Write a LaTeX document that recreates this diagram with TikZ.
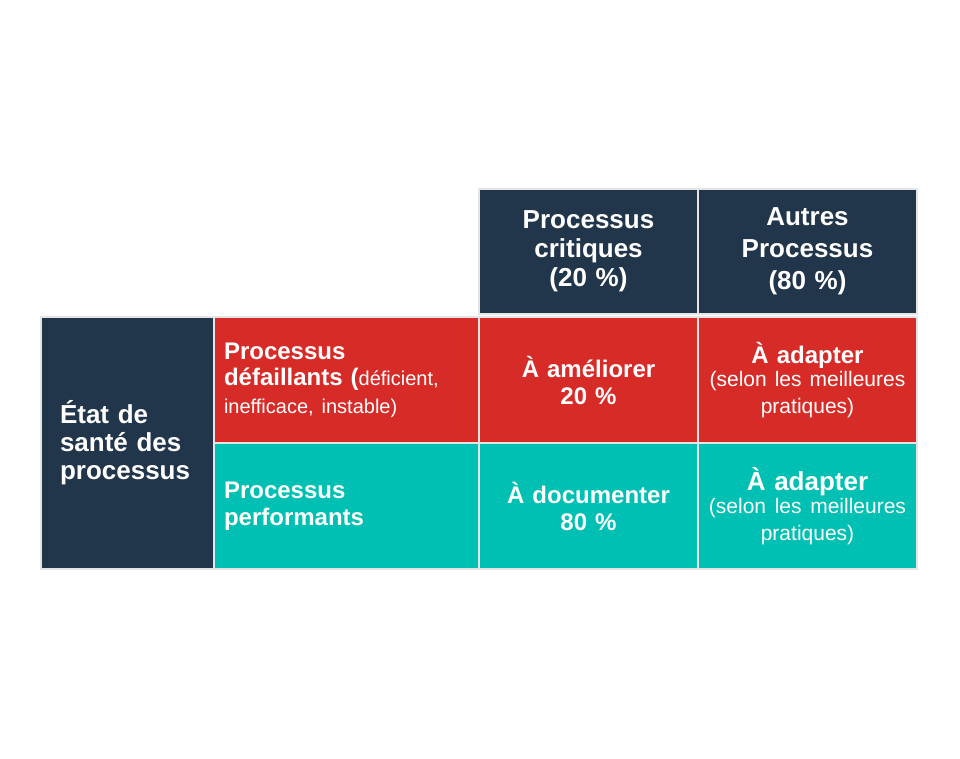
\documentclass[tikz,border=0pt]{standalone}
\usepackage{fontspec}
\setmainfont{Liberation Sans}
\usepackage{xcolor}
\usetikzlibrary{positioning}
\definecolor{navy}{RGB}{34,54,75}
\definecolor{alertred}{RGB}{214,43,39}
\definecolor{okteal}{RGB}{0,191,179}
\newcommand{\regtext}[1][21]{\mdseries\fontsize{#1}{23}\selectfont}

\begin{document}
\begin{tikzpicture}[x=1pt, y=-1pt,
    cell/.style={draw=gray!20, line width=1.2pt, outer sep=0pt, inner ysep=0pt, text=white, font=\bfseries\fontsize{24}{27}\selectfont},
    navycell/.style={cell, fill=navy},
    redcell/.style={cell, fill=alertred},
    tealcell/.style={cell, fill=okteal},
    leftcol/.style={minimum width=173, text width=135, inner xsep=19, align=left},
    labelcol/.style={minimum width=265, minimum height=126, text width=245, inner xsep=10, align=left},
    matcol/.style={minimum width=219, minimum height=126, text width=199, inner xsep=10, align=center}]
  \useasboundingbox (0,0) rectangle (960,759);
  % row headings
  \node[navycell, leftcol, minimum height=252, anchor=north west, font=\bfseries\fontsize{26}{28}\selectfont] (etat) at (41,317) {État de\\santé des\\processus};
  \node[redcell, labelcol, below right=0pt and 0pt of etat.north east] (defail) {Processus\\[3pt]défaillants (\regtext[20]déficient,\\[1pt]\regtext[20]inefficace, instable)};
  \node[tealcell, labelcol, below=0pt of defail] (perf) {Processus\\performants};
  % matrix cells
  \node[redcell, matcol, right=0pt of defail] (ameliorer) {À améliorer\\20 \%};
  \node[redcell, matcol, right=0pt of ameliorer] (adapt1) {À adapter\\\regtext(selon les meilleures\\\regtext pratiques)};
  \node[tealcell, matcol, right=0pt of perf] (documenter) {À documenter\\80 \%};
  \node[tealcell, matcol, right=0pt of documenter, font=\bfseries\fontsize{26}{27}\selectfont] (adapt2) {À adapter\\\regtext(selon les meilleures\\\regtext pratiques)};
  % column headings
  \node[navycell, matcol, minimum height=125, above=3pt of ameliorer, font=\bfseries\fontsize{26}{29}\selectfont] (critiques) {Processus\\critiques\\(20 \%)};
  \node[navycell, matcol, minimum height=125, above=3pt of adapt1, font=\bfseries\fontsize{26}{32}\selectfont] (autres) {Autres\\Processus\\(80 \%)};
\end{tikzpicture}
\end{document}
